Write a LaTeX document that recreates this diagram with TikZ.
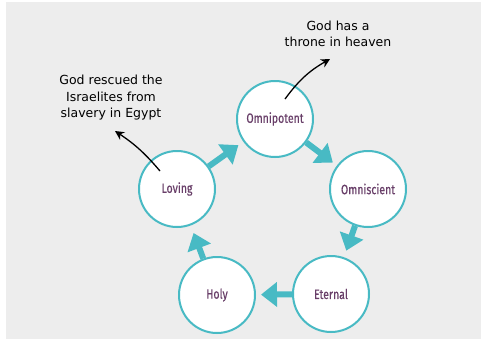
\documentclass[tikz,border=0pt]{standalone}
\usepackage{fontspec}
\usepackage{tikz}
\usetikzlibrary{arrows.meta}
\newfontfamily\labelfont[FakeStretch=0.78,FakeBold=0.4]{Fira Sans}
\newfontfamily\handfont{DejaVu Sans}
\definecolor{teal}{RGB}{72,186,196}
\definecolor{plum}{RGB}{104,62,104}
\definecolor{paper}{RGB}{237,237,237}
\tikzset{
    attribute/.style={circle, draw=teal, line width=2pt, fill=white, minimum size=76pt, inner sep=0pt, text=plum, font=\labelfont\fontsize{13.5}{13.5}\selectfont},
    flow/.style={draw=teal, line width=6pt, -{Triangle[width=24pt,length=16pt]}},
    note/.style={align=center, font=\handfont\fontsize{12.5}{16.5}\selectfont},
    pointer/.style={->, line width=1.3pt, >={Stealth[length=9pt,width=9pt]}}
}

\begin{document}
\begin{tikzpicture}[x=1pt,y=-1pt]
    % Background
    \fill[white] (0,0) rectangle (481,341);
    \fill[paper] (6,2) rectangle (481,339);
    \useasboundingbox (0,0) rectangle (481,341);

    % Draw the five circles
    \node[attribute] (omnipotent) at (275,119) {Omnipotent};
    \node[attribute] (omniscient) at (368,189) {Omniscient};
    \node[attribute] (eternal) at (331,294) {Eternal};
    \node[attribute] (holy) at (217,295) {Holy};
    \node[attribute] (loving) at (177,189) {Loving};

    % Draw the arrows between the circles
    \draw[flow, shorten >=5pt] (omnipotent) -- (omniscient);
    \draw[flow, shorten >=7pt] (omniscient) -- (eternal);
    \draw[flow, shorten >=5pt] (eternal) -- (holy);
    \draw[flow, shorten >=8pt] (holy) -- (loving);
    \draw[flow, shorten >=6pt] (loving) -- (omnipotent);

    % Notes
    \node[note] (throne) at (338,34) {God has a\\throne in heaven};
    \node[note] (rescue) at (111,98) {God rescued the\\Israelites from\\slavery in Egypt};
    \coordinate (throneend) at (330,59);
    \coordinate (rescueend) at (115,131);
    \draw[pointer, bend left=12] (285,99) to (throneend);
    \draw[pointer, bend right=8] (160,171) to (rescueend);
\end{tikzpicture}
\end{document}
